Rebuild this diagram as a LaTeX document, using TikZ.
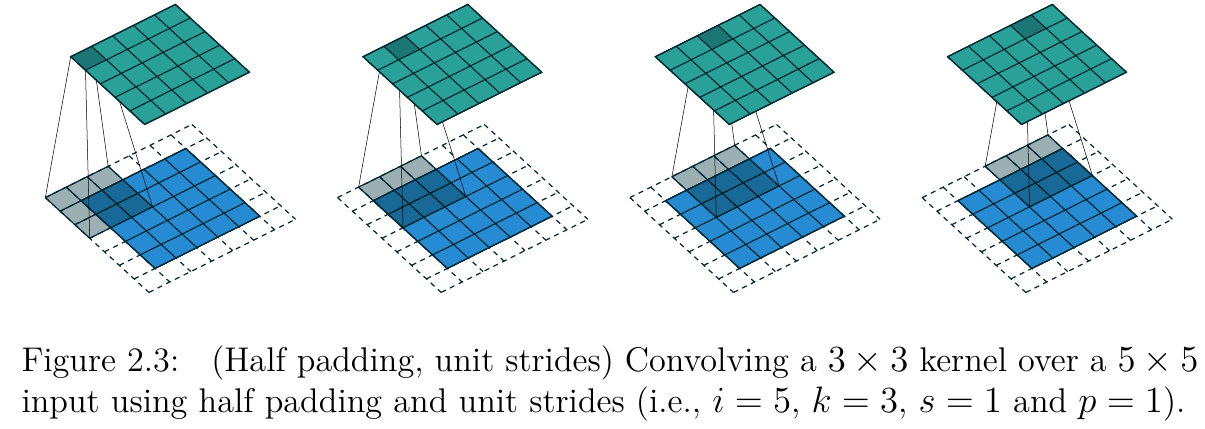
\documentclass[tikz,border=0pt]{standalone}
\usepackage{amsmath,amssymb}
\definecolor{cvgreen}{HTML}{2AA198}
\definecolor{cvblue}{HTML}{268BD2}
\definecolor{cvkernel}{HTML}{073642}
\definecolor{cvline}{HTML}{002B36}
\tikzset{
  cvplane/.style={cm={.2095,.1045,.148,-.1355,(0,0)}},
  cvgrid/.style={draw=cvline,line width=0.48pt},
  cvpad/.style={cvgrid,dash pattern=on 2pt off 1.8pt},
  cvlink/.style={draw=black,line width=0.2pt},
  cvshade/.style={fill=cvkernel,fill opacity=0.4},
  cvcaption/.style={anchor=north west,inner sep=0pt,text width=460.4pt,align=justify,
    font=\fontsize{13.4}{16}\selectfont}}

\begin{document}
\begin{tikzpicture}[scale=1.375]
  \useasboundingbox (0,0) rectangle (12.05,-4.29);
  \foreach \p in {0,1,2,3}{%
    \begin{scope}[shift={(.453+2.923*\p,-1.976)},cvplane]
      \draw[cvpad] (0,0) grid (7,7);
      \filldraw[cvgrid,fill=cvblue] (1,1) rectangle (6,6);
      \draw[cvgrid] (1,1) grid (6,6);
      \fill[cvshade] (\p,0) rectangle (\p+3,3);
      \draw[cvgrid] (\p,0) grid (\p+3,3);
      \coordinate (ka\p) at (\p,0);
      \coordinate (kb\p) at (\p+3,0);
      \coordinate (kc\p) at (\p,3);
      \coordinate (kd\p) at (\p+3,3);
    \end{scope}
    \begin{scope}[shift={(.707+2.923*\p,-.567)},cvplane]
      \coordinate (oa\p) at (\p,0);
      \coordinate (ob\p) at (\p+1,0);
      \coordinate (oc\p) at (\p,1);
      \coordinate (od\p) at (\p+1,1);
    \end{scope}
    \foreach \c in {a,b,c,d}{\draw[cvlink] (k\c\p) -- (o\c\p);}
    \begin{scope}[shift={(.707+2.923*\p,-.567)},cvplane]
      \filldraw[cvgrid,fill=cvgreen] (0,0) rectangle (5,5);
      \fill[cvshade] (\p,0) rectangle (\p+1,1);
      \draw[cvgrid] (0,0) grid (5,5);
    \end{scope}}
  \node[cvcaption] (caption) at (.21,-3.45) {Figure 2.3:\hspace{12.5pt}(Half padding, unit strides) Convolving a $3 \times 3$ kernel over a $5 \times 5$ input using half padding and unit strides (i.e., $i = 5$, $k = 3$, $s = 1$ and $p = 1$).};
\end{tikzpicture}
\end{document}
